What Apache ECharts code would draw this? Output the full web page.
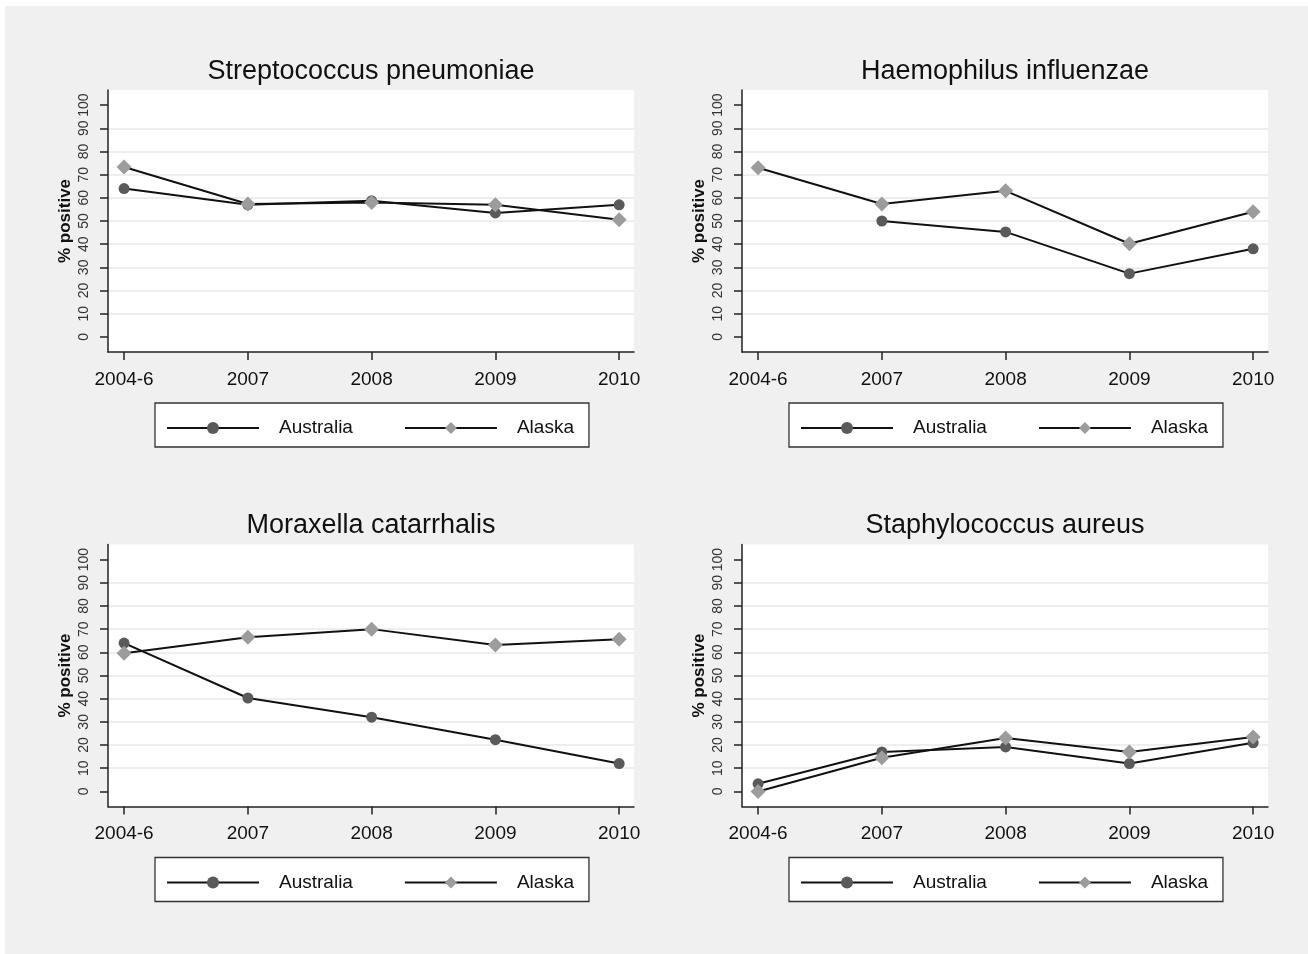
<!DOCTYPE html>
<html>
<head>
<meta charset="utf-8">
<script src="https://cdn.jsdelivr.net/npm/echarts@6/dist/echarts.min.js"></script>
<style>
  html, body { margin: 0; padding: 0; background: #ffffff; }
  #bg { position: absolute; left: 5px; top: 6px; width: 1303px; height: 948px; background: #f0f0f0; }
  #chart { position: absolute; left: 0; top: 0; width: 1308px; height: 954px; }
</style>
</head>
<body>
<div id="bg"></div>
<div id="chart"></div>
<script>
// ---- data ----
const categories = ['2004-6', '2007', '2008', '2009', '2010'];
const yTicks = [0, 10, 20, 30, 40, 50, 60, 70, 80, 90, 100];
const panelTitles = ['Streptococcus pneumoniae', 'Haemophilus influenzae', 'Moraxella catarrhalis', 'Staphylococcus aureus'];
const seriesNames = ['Australia', 'Alaska'];

const streptoAustralia = [64, 57, 58.7, 53.5, 57];
const streptoAlaska    = [73.3, 57.3, 58, 57, 50.5];
const haemoAustralia   = [null, 50, 45.3, 27.3, 38];
const haemoAlaska      = [73, 57.3, 63, 40.2, 54];
const moraxAustralia   = [64, 40.3, 32, 22.3, 12];
const moraxAlaska      = [59.6, 66.5, 70, 63.2, 65.6];
const staphAustralia   = [3.3, 17, 19.2, 12, 21];
const staphAlaska      = [0, 14.5, 23, 17, 23.5];

const panelData = [
  [streptoAustralia, streptoAlaska],
  [haemoAustralia, haemoAlaska],
  [moraxAustralia, moraxAlaska],
  [staphAustralia, staphAlaska]
];

// ---- layout ----
const FONT = "'Liberation Sans', Arial, Helvetica, sans-serif";
const panels = [
  { left: 108, top: 90 },
  { left: 742, top: 90 },
  { left: 108, top: 544.5 },
  { left: 742, top: 544.5 }
];
const PW = 526, PH = 262;

const grid = [], xAxis = [], yAxis = [], series = [], title = [], legend = [];
const xIdx = categories.map((c, i) => i);

panels.forEach((p, k) => {
  grid.push({
    left: p.left, top: p.top, width: PW, height: PH,
    show: true, backgroundColor: '#ffffff', borderWidth: 0
  });
  xAxis.push({
    type: 'value', gridIndex: k, min: -0.13, max: 4.12,
    axisLine: { show: true, onZero: false, lineStyle: { color: '#222', width: 1.5 } },
    axisTick: { show: true, length: 8, customValues: xIdx, lineStyle: { color: '#222', width: 1.5 } },
    axisLabel: {
      customValues: xIdx, margin: 18,
      formatter: v => categories[Math.round(v)],
      fontFamily: FONT, fontSize: 19, color: '#111'
    },
    splitLine: { show: false }
  });
  const gridColors = yTicks.map(v => (v === 0 || v === 100) ? 'rgba(0,0,0,0)' : '#e8e8e8');
  yAxis.push({
    type: 'value', gridIndex: k, min: -6.5, max: 106.5,
    name: '% positive', nameLocation: 'middle', nameGap: 34,
    nameTextStyle: { fontFamily: FONT, fontSize: 17, fontWeight: 'bold', color: '#111' },
    axisLine: { show: true, onZero: false, lineStyle: { color: '#222', width: 1.5 } },
    axisTick: { show: true, length: 8, customValues: yTicks, lineStyle: { color: '#222', width: 1.5 } },
    axisLabel: {
      customValues: yTicks, rotate: 90, margin: 17,
      fontFamily: FONT, fontSize: 14, color: '#333'
    },
    splitLine: { show: true, lineStyle: { color: gridColors, width: 1.5 } }
  });
  title.push({
    text: panelTitles[k], left: p.left + PW / 2, top: p.top - 32, textAlign: 'center', padding: 0,
    textStyle: { fontFamily: FONT, fontSize: 27, fontWeight: 'normal', color: '#111' }
  });
  legend.push({
    left: p.left + 47, top: p.top + 313,
    orient: 'horizontal', data: seriesNames,
    itemWidth: 92, itemHeight: 15, itemGap: 51,
    padding: [14, 15, 8, 11],
    backgroundColor: '#ffffff', borderColor: '#333', borderWidth: 1.3, borderRadius: 0,
    textStyle: { fontFamily: FONT, fontSize: 19, color: '#111', padding: [0, 0, 0, 15], lineHeight: 22 }
  });
  const [aus, ala] = panelData[k];
  series.push({
    name: 'Australia', type: 'line', xAxisIndex: k, yAxisIndex: k,
    data: aus.map((v, i) => [i, v]),
    symbol: 'circle', symbolSize: 11, connectNulls: false,
    lineStyle: { color: '#111', width: 2 },
    itemStyle: { color: '#5a5a5a' },
    z: 3, animation: false
  });
  series.push({
    name: 'Alaska', type: 'line', xAxisIndex: k, yAxisIndex: k,
    data: ala.map((v, i) => [i, v]),
    symbol: 'diamond', symbolSize: 15, connectNulls: false,
    lineStyle: { color: '#111', width: 2 },
    itemStyle: { color: '#9c9c9c' },
    z: 4, animation: false
  });
});

const chart = echarts.init(document.getElementById('chart'), null, { renderer: 'canvas' });
chart.setOption({
  backgroundColor: 'transparent',
  animation: false,
  textStyle: { fontFamily: FONT },
  title, grid, xAxis, yAxis, legend, series
});
</script>
</body>
</html>
